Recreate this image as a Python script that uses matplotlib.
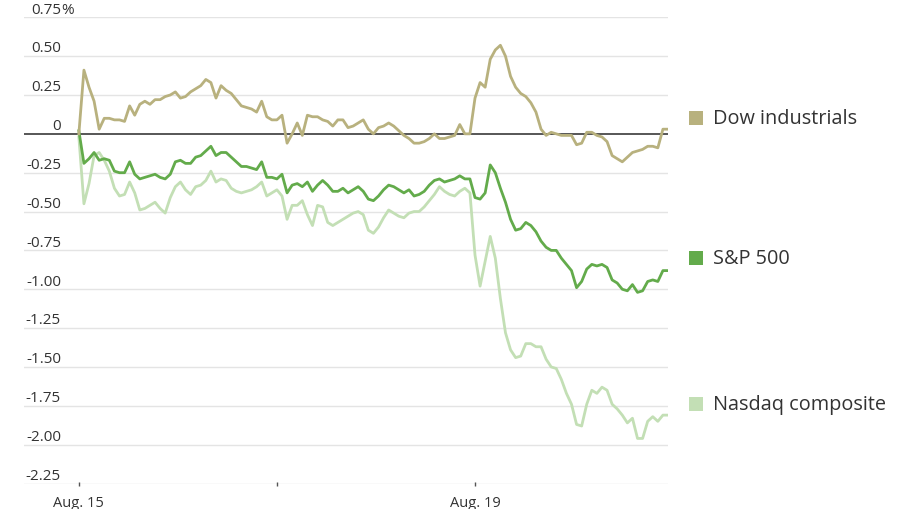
import numpy as np
import matplotlib
matplotlib.use("Agg")
import matplotlib.pyplot as plt
from matplotlib.transforms import blended_transform_factory

plt.rcParams['font.family'] = ['Open Sans', 'DejaVu Sans']

# ---- data: % change, sampled every 10 trading minutes ----
dow = [0.00, 0.41, 0.30, 0.21, 0.03, 0.10, 0.10, 0.09, 0.09, 0.08,
       0.18, 0.12, 0.19, 0.21, 0.19, 0.22, 0.22, 0.24, 0.25, 0.27,
       0.23, 0.24, 0.27, 0.29, 0.31, 0.35, 0.33, 0.23, 0.31, 0.28,
       0.26, 0.22, 0.18, 0.17, 0.16, 0.14, 0.21, 0.11, 0.09, 0.09,
       0.12, -0.06, 0.00, 0.07, -0.01, 0.12, 0.11, 0.11, 0.09, 0.08,
       0.05, 0.09, 0.09, 0.04, 0.05, 0.07, 0.09, 0.03, 0.00, 0.04,
       0.05, 0.07, 0.05, 0.02, -0.01, -0.03, -0.06, -0.06, -0.05, -0.03,
       0.00, -0.03, -0.03, -0.02, -0.01, 0.06, 0.00, 0.00, 0.23, 0.33,
       0.30, 0.48, 0.54, 0.57, 0.50, 0.37, 0.30, 0.26, 0.24, 0.20,
       0.14, 0.03, -0.01, 0.01, 0.00, -0.01, -0.01, -0.01, -0.07, -0.06,
       0.01, 0.01, -0.01, -0.02, -0.05, -0.14, -0.16, -0.18, -0.15, -0.12,
       -0.11, -0.10, -0.08, -0.08, -0.09, 0.03, 0.03]

sp500 = [0.02, -0.19, -0.16, -0.12, -0.17, -0.16, -0.17, -0.24, -0.25, -0.25,
         -0.18, -0.26, -0.29, -0.28, -0.27, -0.26, -0.28, -0.29, -0.26, -0.18,
         -0.17, -0.19, -0.19, -0.15, -0.14, -0.11, -0.08, -0.14, -0.12, -0.12,
         -0.15, -0.18, -0.21, -0.21, -0.22, -0.23, -0.18, -0.28, -0.28, -0.29,
         -0.26, -0.38, -0.33, -0.32, -0.34, -0.31, -0.37, -0.33, -0.30, -0.33,
         -0.37, -0.37, -0.35, -0.38, -0.36, -0.34, -0.37, -0.42, -0.43, -0.40,
         -0.36, -0.33, -0.34, -0.36, -0.38, -0.36, -0.40, -0.39, -0.37, -0.33,
         -0.30, -0.29, -0.31, -0.30, -0.29, -0.27, -0.29, -0.29, -0.41, -0.42,
         -0.38, -0.20, -0.25, -0.35, -0.44, -0.55, -0.62, -0.61, -0.57, -0.59,
         -0.63, -0.69, -0.73, -0.75, -0.75, -0.80, -0.84, -0.88, -0.99, -0.95,
         -0.87, -0.84, -0.85, -0.84, -0.86, -0.94, -0.96, -1.00, -1.01, -0.97,
         -1.02, -1.01, -0.95, -0.94, -0.95, -0.88, -0.88]

nasdaq = [-0.02, -0.45, -0.32, -0.14, -0.12, -0.17, -0.24, -0.35, -0.40, -0.39,
          -0.31, -0.38, -0.49, -0.48, -0.46, -0.44, -0.48, -0.51, -0.41, -0.34,
          -0.31, -0.36, -0.39, -0.34, -0.33, -0.30, -0.24, -0.31, -0.29, -0.30,
          -0.35, -0.37, -0.38, -0.37, -0.36, -0.34, -0.31, -0.40, -0.38, -0.36,
          -0.40, -0.55, -0.46, -0.46, -0.43, -0.52, -0.59, -0.46, -0.47, -0.57,
          -0.59, -0.57, -0.55, -0.53, -0.51, -0.50, -0.52, -0.62, -0.64, -0.60,
          -0.54, -0.49, -0.51, -0.53, -0.54, -0.51, -0.50, -0.50, -0.47, -0.43,
          -0.39, -0.34, -0.37, -0.39, -0.40, -0.37, -0.35, -0.38, -0.78, -0.98,
          -0.82, -0.66, -0.80, -1.06, -1.28, -1.39, -1.44, -1.43, -1.35, -1.35,
          -1.37, -1.37, -1.45, -1.50, -1.51, -1.58, -1.67, -1.74, -1.87, -1.88,
          -1.74, -1.65, -1.67, -1.63, -1.65, -1.74, -1.77, -1.81, -1.86, -1.83,
          -1.96, -1.96, -1.85, -1.82, -1.85, -1.81, -1.81]

series_names = ["Dow industrials", "S&P 500", "Nasdaq composite"]
series_colors = ["#b8b17e", "#63ab4b", "#c3dfb5"]
label_values = [0.10, -0.80, -1.74]

step_minutes = 10
minutes = np.arange(len(dow)) * step_minutes

xtick_pos = [0, 390, 780]
xtick_labels = ["Aug. 15", "", "Aug. 19"]
ytick_vals = [0.75, 0.50, 0.25, 0, -0.25, -0.50, -0.75, -1.00, -1.25, -1.50, -1.75, -2.00, -2.25]
ytick_labels = ["0.75", "0.50", "0.25", "0", "-0.25", "-0.50", "-0.75", "-1.00",
                "-1.25", "-1.50", "-1.75", "-2.00", "-2.25"]

# ---- figure ----
W, H = 900, 510
fig = plt.figure(figsize=(W / 100, H / 100), dpi=100)
left, right, top, bottom = 24, 668, 18.3, 484.5
ax = fig.add_axes([left / W, 1 - bottom / H, (right - left) / W, (bottom - top) / H])

ax.set_xlim(-108, minutes[-1])
ax.set_ylim(-2.25, 0.75)

for v in ytick_vals:
    if v == 0:
        ax.axhline(v, color="#3a3a3a", lw=1.2, zorder=1.5)
    else:
        ax.axhline(v, color="#e4e4e4", lw=1.0, zorder=1)

ax.plot(minutes, nasdaq, color=series_colors[2], lw=2.0, zorder=3, solid_joinstyle='round')
ax.plot(minutes, sp500, color=series_colors[1], lw=2.0, zorder=4, solid_joinstyle='round')
ax.plot(minutes, dow, color=series_colors[0], lw=2.0, zorder=5, solid_joinstyle='round')

for s in ax.spines.values():
    s.set_visible(False)

ax.set_yticks([])
ax.set_xticks(xtick_pos)
ax.set_xticklabels(xtick_labels, fontsize=10.5, color="#333333")
ax.tick_params(axis='x', length=3, width=1, color="#555555", pad=7, direction='inout')

# y labels above gridlines, right aligned
ytr = blended_transform_factory(ax.transAxes, ax.transData)
xr = (61 - left) / (right - left)
for v, lab in zip(ytick_vals, ytick_labels):
    t = ax.annotate(lab, xy=(xr, v), xycoords=ytr, xytext=(0, 0.5), textcoords='offset points',
                    ha='right', va='bottom', fontsize=11, color="#333333")
    if v == ytick_vals[0]:
        ax.annotate("%", xy=(1, 0), xycoords=t, ha='left', va='bottom',
                    fontsize=11, color="#333333")

# legend labels at right
ltr = blended_transform_factory(fig.transFigure, ax.transData)
for name, col, v in zip(series_names, series_colors, label_values):
    ax.plot([696 / W], [v], marker='s', markersize=9.5, color=col, transform=ltr,
            clip_on=False, markeredgewidth=0)
    ax.text(713 / W, v, name, transform=ltr, ha='left', va='center',
            fontsize=14.3, color="#333333", clip_on=False)

fig.savefig("out.png", dpi=100)
